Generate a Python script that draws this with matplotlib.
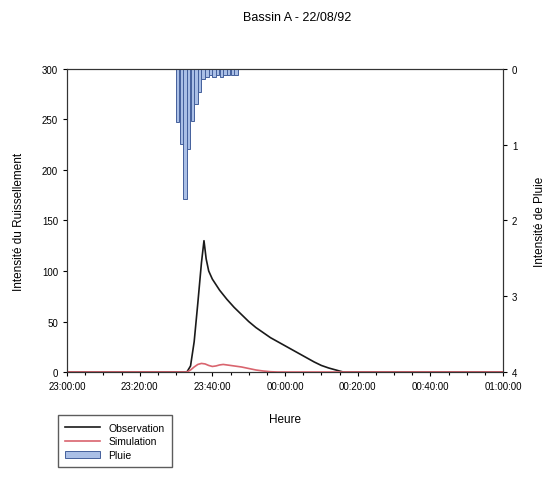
import numpy as np
import matplotlib.pyplot as plt
from matplotlib.patches import Patch
from matplotlib.lines import Line2D

plt.rcParams['font.family'] = ['Liberation Sans', 'DejaVu Sans']

# time in minutes after 23:00:00
obs_t = [0, 33, 34, 35, 36, 37, 37.7, 38.3, 39, 40, 42, 44, 46, 48, 50, 52, 54,
         56, 58, 60, 62, 64, 66, 68, 70, 72, 74, 76, 120]
obs_v = [0, 0, 6, 30, 68, 108, 130, 112, 100, 92, 81, 72, 64, 57, 50, 44, 39,
         34, 30, 26, 22, 18, 14, 10, 6.5, 4, 2, 0, 0]

sim_t = [0, 33, 34, 35, 36, 37, 38, 39, 40, 41, 42, 43, 44, 46, 48, 50, 52, 54,
         56, 58, 120]
sim_v = [0, 0, 2, 5, 7.5, 8.5, 8, 6.5, 5.5, 6, 7, 7.5, 7, 6, 5, 3.5, 2, 1,
         0.3, 0, 0]

rain_t = list(range(30, 47))
rain_v = [0.70, 0.99, 1.72, 1.06, 0.69, 0.46, 0.30, 0.13, 0.10, 0.08, 0.10,
          0.08, 0.10, 0.08, 0.08, 0.08, 0.08]

xticks = [0, 20, 40, 60, 80, 100, 120]
xlabels = ['23:00:00', '23:20:00', '23:40:00', '00:00:00', '00:20:00',
           '00:40:00', '01:00:00']

fig = plt.figure(figsize=(5.51, 4.85), dpi=100)
ax = fig.add_axes([0.1216, 0.2309, 0.7913, 0.6248])
ax2 = ax.twinx()

ax.plot(obs_t, obs_v, color='#1a1a1a', lw=1.2, zorder=3)
ax.plot(sim_t, sim_v, color='#d9646e', lw=1.2, zorder=3)
ax.set_xlim(0, 120)
ax.set_ylim(0, 300)
ax.set_yticks(range(0, 301, 50))
ax.set_xticks(xticks)
ax.set_xticklabels(xlabels)
ax.set_xticks(range(0, 121, 5), minor=True)
ax.tick_params(labelsize=7, length=3, width=0.8)
ax.tick_params(which='minor', length=2, width=0.8)
ax.set_xlabel('Heure', fontsize=8.5, labelpad=16)
ax.set_ylabel('Intensité du Ruissellement', fontsize=8.5, labelpad=12)

ax2.bar(rain_t, rain_v, width=0.95, align='edge', color='#aabfe6',
        edgecolor='#44609c', lw=0.7)
ax2.set_ylim(4, 0)
ax2.set_yticks(range(0, 5))
ax2.tick_params(labelsize=7, length=3, width=0.8)
ax2.set_ylabel('Intensité de Pluie', fontsize=8.5, labelpad=12)

for a in (ax, ax2):
    for s in a.spines.values():
        s.set_linewidth(0.8)
        s.set_color('#333333')

fig.suptitle('Bassin A - 22/08/92', fontsize=9, y=0.975, x=0.54)

handles = [Line2D([], [], color='#1a1a1a', lw=1.2),
           Line2D([], [], color='#d9646e', lw=1.2),
           Patch(facecolor='#aabfe6', edgecolor='#44609c', lw=0.7)]
fig.legend(handles, ['Observation', 'Simulation', 'Pluie'], loc='upper left',
           bbox_to_anchor=(0.095, 0.152), fontsize=7.5, frameon=True,
           fancybox=False, edgecolor='#333333', handlelength=3.4,
           labelspacing=0.35, borderpad=0.7)

fig.savefig('out.png', dpi=100)
